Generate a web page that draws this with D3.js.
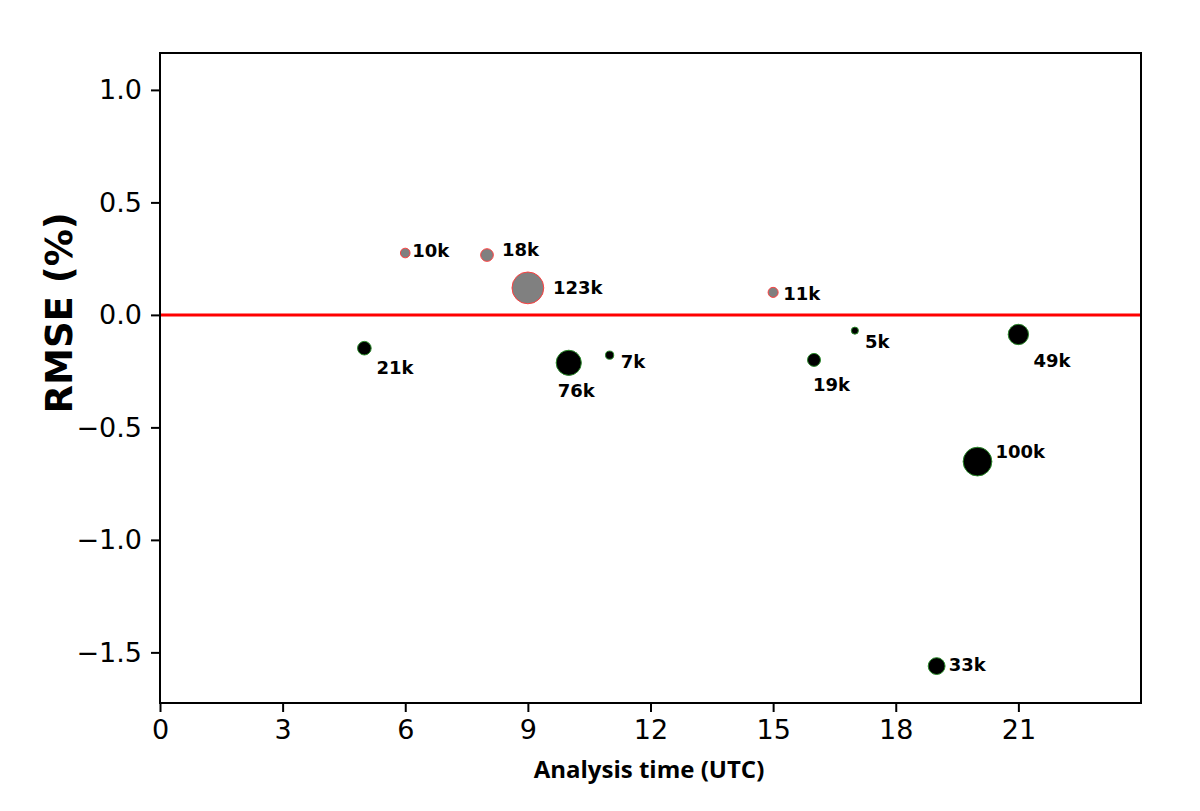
<html>
  <head>
    <meta charset="utf-8" />
    <style>
      body {
        margin: 0;
        background: #fff;
      }
      svg {
        display: block;
      }
      .tick text {
        font-family: "DejaVu Sans", sans-serif;
        font-size: 27px;
        fill: #000;
      }
      .pt-label {
        font-family: "DejaVu Sans", sans-serif;
        font-weight: bold;
        font-size: 18px;
        fill: #000;
      }
      .y-title {
        font-family: "DejaVu Sans", sans-serif;
        font-weight: bold;
        font-size: 37px;
        text-anchor: middle;
      }
      .x-title {
        font-family: "Open Sans", sans-serif;
        font-weight: bold;
        font-size: 24px;
        text-anchor: middle;
      }
    </style>
  </head>
  <body>
    <script src="https://d3js.org/d3.v7.min.js"></script>
    <script>
      // analysis hour (UTC), RMSE difference (%), number of obs (thousands)
      const hours = [5, 6, 8, 9, 10, 11, 15, 16, 17, 19, 20, 21];
      const rmse = [-0.148, 0.275, 0.266, 0.12, -0.213, -0.179, 0.1, -0.2, -0.07, -1.561, -0.652, -0.087];
      const counts = [21, 10, 18, 123, 76, 7, 11, 19, 5, 33, 100, 49];
      const xTicks = [0, 3, 6, 9, 12, 15, 18, 21];
      const yTicks = [1.0, 0.5, 0.0, -0.5, -1.0, -1.5];

      // pixel nudges for the count labels (text start, baseline) from the point centre
      const labelNudge = [
        [12, 26], [7, 4], [15, 1], [25, 6], [-11, 34], [11, 13],
        [10, 8], [-1, 31], [10, 17], [12, 5], [18, -4], [15, 33],
      ];

      const width = 1200,
        height = 811;
      const margin = { left: 160, right: 59, top: 53, bottom: 108 };

      const svg = d3
        .select("body")
        .append("svg")
        .attr("width", width)
        .attr("height", height);

      const x = d3
        .scaleLinear()
        .domain([0, 24])
        .range([margin.left, width - margin.right]);
      const y = d3
        .scaleLinear()
        .domain([-1.725, 1.164])
        .range([height - margin.bottom, margin.top]);
      const r = d3.scaleSqrt().domain([0, 123]).range([0, 15.5]);

      // zero line
      svg
        .append("line")
        .attr("x1", x(0))
        .attr("x2", x(24))
        .attr("y1", y(0))
        .attr("y2", y(0))
        .attr("stroke", "#ff0000")
        .attr("stroke-width", 3);

      const pts = svg.append("g");
      hours.forEach((h, i) => {
        const pos = rmse[i] > 0;
        pts
          .append("circle")
          .attr("cx", x(h))
          .attr("cy", y(rmse[i]))
          .attr("r", r(counts[i]) + 0.4)
          .attr("fill", pos ? "#808080" : "#000000")
          .attr("stroke", pos ? "#ff4040" : "#2a8a2a")
          .attr("stroke-width", 1);
        pts
          .append("text")
          .attr("class", "pt-label")
          .attr("x", x(h) + labelNudge[i][0])
          .attr("y", y(rmse[i]) + labelNudge[i][1])
          .text(`${counts[i]}k`);
      });

      const xAxis = svg
        .append("g")
        .attr("transform", `translate(0,${height - margin.bottom})`)
        .call(
          d3
            .axisBottom(x)
            .tickValues(xTicks)
            .tickSize(9)
            .tickPadding(8)
            .tickSizeOuter(0)
        );

      const yAxis = svg
        .append("g")
        .attr("transform", `translate(${margin.left},0)`)
        .call(
          d3
            .axisLeft(y)
            .tickValues(yTicks)
            .tickFormat((d) => d3.format(".1f")(d).replace("-", "\u2212"))
            .tickSize(9)
            .tickPadding(9)
            .tickSizeOuter(0)
        );

      [xAxis, yAxis].forEach((g) => {
        g.select(".domain").remove();
        g.selectAll(".tick line").attr("stroke", "#000").attr("stroke-width", 2);
      });

      // frame
      svg
        .append("rect")
        .attr("x", x(0))
        .attr("y", y(1.164))
        .attr("width", x(24) - x(0))
        .attr("height", y(-1.725) - y(1.164))
        .attr("fill", "none")
        .attr("stroke", "#000")
        .attr("stroke-width", 2);

      svg
        .append("text")
        .attr("class", "y-title")
        .attr("transform", `translate(72,${y(0) - 2}) rotate(-90)`)
        .text("RMSE (%)");

      svg
        .append("text")
        .attr("class", "x-title")
        .attr("x", 649)
        .attr("y", 778)
        .text("Analysis time (UTC)");
    </script>
  </body>
</html>
